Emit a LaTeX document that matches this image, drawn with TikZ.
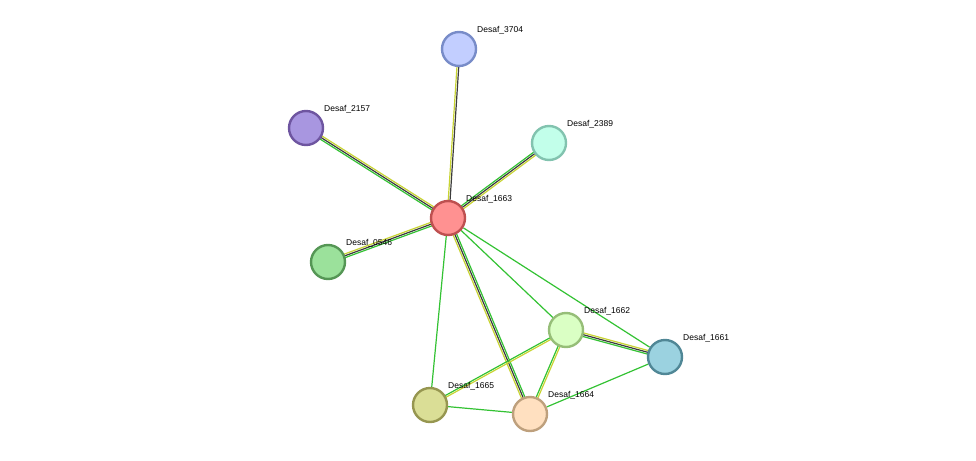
\documentclass[tikz,border=0pt]{standalone}
\usepackage{fontspec}
\setmainfont{Liberation Sans}
\usetikzlibrary{calc,backgrounds}
\definecolor{egreen}{RGB}{51,194,51}
\definecolor{eyellow}{RGB}{200,212,50}
\definecolor{eblack}{RGB}{60,60,60}
\tikzset{
  prot/.style={circle,minimum size=34pt,line width=2.4pt,inner sep=0pt},
  lbl/.style={anchor=south west,inner sep=0pt,font=\fontsize{8.5}{10}\selectfont},
  edge/.style={line width=1.2pt},
}
% edge made of parallel coloured lines
\newcommand{\links}[4]{%
  \foreach \c [count=\i] in {#4}{%
    \pgfmathsetmacro{\off}{(\i-1-(#3-1)/2)*1.8}
    \draw[edge,\c] ($(#1.center)!\off pt!90:(#2.center)$) -- ($(#2.center)!\off pt!-90:(#1.center)$);}}
\begin{document}
\begin{tikzpicture}[x=1pt,y=-1pt]
\useasboundingbox (0,0) rectangle (976,460);
% Proteins
\node[prot,draw={rgb,255:red,120;green,140;blue,200},fill={rgb,255:red,194;green,206;blue,255}] (p3704) at (459,49) {};
\node[prot,draw={rgb,255:red,110;green,85;blue,160},fill={rgb,255:red,168;green,150;blue,224}] (p2157) at (306,128) {};
\node[prot,draw={rgb,255:red,130;green,195;blue,175},fill={rgb,255:red,194;green,255;blue,234}] (p2389) at (549,143) {};
\node[prot,draw={rgb,255:red,190;green,80;blue,80},fill={rgb,255:red,255;green,145;blue,145}] (p1663) at (448,218) {};
\node[prot,draw={rgb,255:red,85;green,150;blue,85},fill={rgb,255:red,155;green,225;blue,155}] (p0546) at (328,262) {};
\node[prot,draw={rgb,255:red,150;green,190;blue,120},fill={rgb,255:red,218;green,255;blue,196}] (p1662) at (566,330) {};
\node[prot,draw={rgb,255:red,80;green,135;blue,150},fill={rgb,255:red,155;green,210;blue,224}] (p1661) at (665,357) {};
\node[prot,draw={rgb,255:red,150;green,150;blue,80},fill={rgb,255:red,218;green,222;blue,150}] (p1665) at (430,405) {};
\node[prot,draw={rgb,255:red,190;green,160;blue,125},fill={rgb,255:red,255;green,224;blue,192}] (p1664) at (530,414) {};

% Names
\foreach \p in {3704,2157,2389,1663,0546,1662,1661,1665,1664}
  \node[lbl] (l\p) at ($(p\p.center)+(18,-15)$) {Desaf\_\p};

% Interactions
\begin{pgfonlayer}{background}
\links{p1663}{p3704}{2}{eblack,eyellow}
\links{p1663}{p2157}{3}{eyellow,eblack,egreen}
\links{p1663}{p2389}{3}{eyellow,eblack,egreen}
\links{p1663}{p0546}{3}{eyellow,eblack,egreen}
\links{p1663}{p1664}{3}{eyellow,eblack,egreen}
\links{p1662}{p1661}{3}{egreen,eblack,eyellow}
\links{p1662}{p1665}{2}{egreen,eyellow}
\links{p1662}{p1664}{2}{egreen,eyellow}
\foreach \a/\b in {p1663/p1665,p1663/p1662,p1663/p1661,p1665/p1664,p1664/p1661}
  \draw[edge,egreen] (\a) -- (\b);
\end{pgfonlayer}
\end{tikzpicture}
\end{document}
